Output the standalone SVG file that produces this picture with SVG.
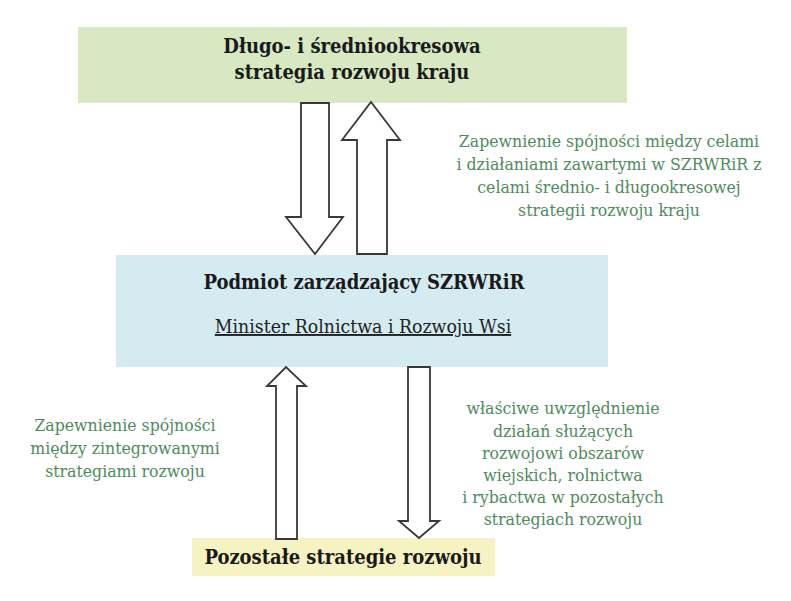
<svg xmlns="http://www.w3.org/2000/svg" width="791" height="601" viewBox="0 0 791 601">
<style>
.t{font-family:"DejaVu Serif","Liberation Serif",serif;text-anchor:middle;font-stretch:condensed}
.b{font-weight:bold;fill:#1a1a1a;font-size:20px}
.g{fill:#4e8b5c;font-size:17.5px}
.arr{fill:#ffffff;stroke:#383838;stroke-width:1.8;stroke-linejoin:miter}
</style>
<rect width="791" height="601" fill="#ffffff"/>
<g id="node-top">
<rect x="78" y="27" width="549" height="76" fill="#d7e8c3"/>
<text class="t b" x="352" y="53" font-size="21">Długo- i średniookresowa</text>
<text class="t b" x="352" y="79" font-size="21">strategia rozwoju kraju</text>
</g>
<g id="node-middle">
<rect x="116" y="255" width="492" height="112" fill="#d5ebf2"/>
<text class="t b" x="364" y="289" font-size="19.3">Podmiot zarządzający SZRWRiR</text>
<text class="t" x="363" y="333" font-size="19.3" fill="#222" text-decoration="underline">Minister Rolnictwa i Rozwoju Wsi</text>
</g>
<g id="node-bottom">
<rect x="192" y="538" width="303" height="38" fill="#f6f3c2"/>
<text class="t b" x="343" y="564" font-size="19.2">Pozostałe strategie rozwoju</text>
</g>
<g id="connectors">
<polygon class="arr" points="301,103 329,103 329,217 343,217 315,254 286,217 301,217"/>
<polygon class="arr" points="357,254 387,254 387,140 400,140 371,102 342,140 357,140"/>
<polygon class="arr" points="276,539 297,539 297,386 306,386 286,367 267,386 276,386"/>
<polygon class="arr" points="408,367 430,367 430,521 439,521 419,538 399,521 408,521"/>
</g>
<g id="label-top-right">
<text class="t g" x="609" y="147">Zapewnienie spójności między celami</text>
<text class="t g" x="609" y="170">i działaniami zawartymi w SZRWRiR z</text>
<text class="t g" x="609" y="193">celami średnio- i długookresowej</text>
<text class="t g" x="609" y="216">strategii rozwoju kraju</text>
</g>
<g id="label-bottom-left">
<text class="t g" x="125" y="431">Zapewnienie spójności</text>
<text class="t g" x="125" y="454">między zintegrowanymi</text>
<text class="t g" x="125" y="477">strategiami rozwoju</text>
</g>
<g id="label-bottom-right">
<text class="t g" x="563" y="414">właściwe uwzględnienie</text>
<text class="t g" x="563" y="437">działań służących</text>
<text class="t g" x="563" y="459">rozwojowi obszarów</text>
<text class="t g" x="563" y="481">wiejskich, rolnictwa</text>
<text class="t g" x="563" y="503">i rybactwa w pozostałych</text>
<text class="t g" x="563" y="525">strategiach rozwoju</text>
</g>
</svg>
